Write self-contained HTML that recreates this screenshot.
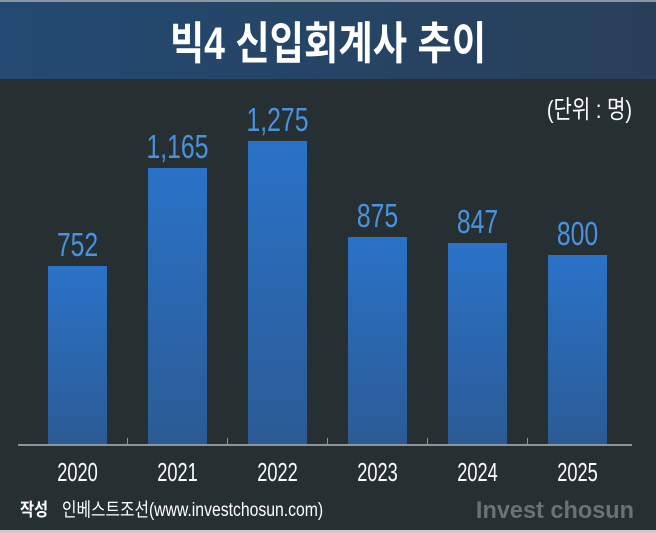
<!DOCTYPE html>
<html><head><meta charset="utf-8"><style>
html,body{margin:0;padding:0;width:656px;height:533px;overflow:hidden;background:#263033}
</style></head><body>
<svg width="656" height="533" viewBox="0 0 656 533" xmlns="http://www.w3.org/2000/svg">
<defs>
<linearGradient id="hd" x1="0" y1="0" x2="1" y2="0"><stop offset="0" stop-color="#234a72"/><stop offset="1" stop-color="#283f58"/></linearGradient>
<linearGradient id="br" x1="0" y1="0" x2="0" y2="1"><stop offset="0" stop-color="#2a72c8"/><stop offset="1" stop-color="#2b5b94"/></linearGradient>
</defs>
<rect x="0" y="0" width="656" height="533" fill="#263033"/>
<rect x="0" y="0" width="656" height="79" fill="url(#hd)"/>
<rect x="0" y="0" width="656" height="2" fill="#8a97a3"/>
<rect x="0" y="530" width="656" height="3" fill="#c9cccd"/>
<g font-family="'Liberation Sans','Noto Sans CJK KR',sans-serif">
<text transform="translate(328,59) scale(0.83,1)" text-anchor="middle" font-size="45" font-weight="bold" fill="#fff">빅4 신입회계사 추이</text>
<text transform="translate(632,118) scale(0.8,1)" text-anchor="end" font-size="25" fill="#fff">(단위 : 명)</text>
<g fill="url(#br)">
<rect x="48" y="266" width="59" height="179"/>
<rect x="148" y="168" width="59" height="277"/>
<rect x="248" y="141" width="59" height="304"/>
<rect x="348" y="237" width="59" height="208"/>
<rect x="448" y="243" width="59" height="202"/>
<rect x="548" y="255" width="59" height="190"/>
</g>
<rect x="18" y="444" width="614" height="2" fill="#8d9499"/>
<g stroke="#8d9499" stroke-width="1">
<line x1="127.5" y1="438" x2="127.5" y2="445"/><line x1="227.5" y1="438" x2="227.5" y2="445"/><line x1="327.5" y1="438" x2="327.5" y2="445"/><line x1="427.5" y1="438" x2="427.5" y2="445"/><line x1="527.5" y1="438" x2="527.5" y2="445"/>
</g>
<g fill="#4a92e0" font-size="33" text-anchor="middle">
<text transform="translate(77.5,256) scale(0.75,1)">752</text>
<text transform="translate(177.5,158) scale(0.75,1)">1,165</text>
<text transform="translate(277.5,131) scale(0.75,1)">1,275</text>
<text transform="translate(377.5,227) scale(0.75,1)">875</text>
<text transform="translate(477.5,233) scale(0.75,1)">847</text>
<text transform="translate(577.5,245) scale(0.75,1)">800</text>
</g>
<g fill="#fff" font-size="26" text-anchor="middle">
<text transform="translate(77.5,481) scale(0.7,1)">2020</text>
<text transform="translate(177.5,481) scale(0.7,1)">2021</text>
<text transform="translate(277.5,481) scale(0.7,1)">2022</text>
<text transform="translate(377.5,481) scale(0.7,1)">2023</text>
<text transform="translate(477.5,481) scale(0.7,1)">2024</text>
<text transform="translate(577.5,481) scale(0.7,1)">2025</text>
</g>
<text transform="translate(20,516) scale(0.85,1)" font-size="18" font-weight="bold" fill="#fff">작성</text>
<text transform="translate(62,516) scale(0.83,1)" font-size="19" fill="#fff">인베스트조선(www.investchosun.com)</text>
<text transform="translate(634,518) scale(0.98,1)" text-anchor="end" font-size="24" font-weight="bold" fill="#6b7276">Invest chosun</text>
</g>
</svg>
</body></html>
